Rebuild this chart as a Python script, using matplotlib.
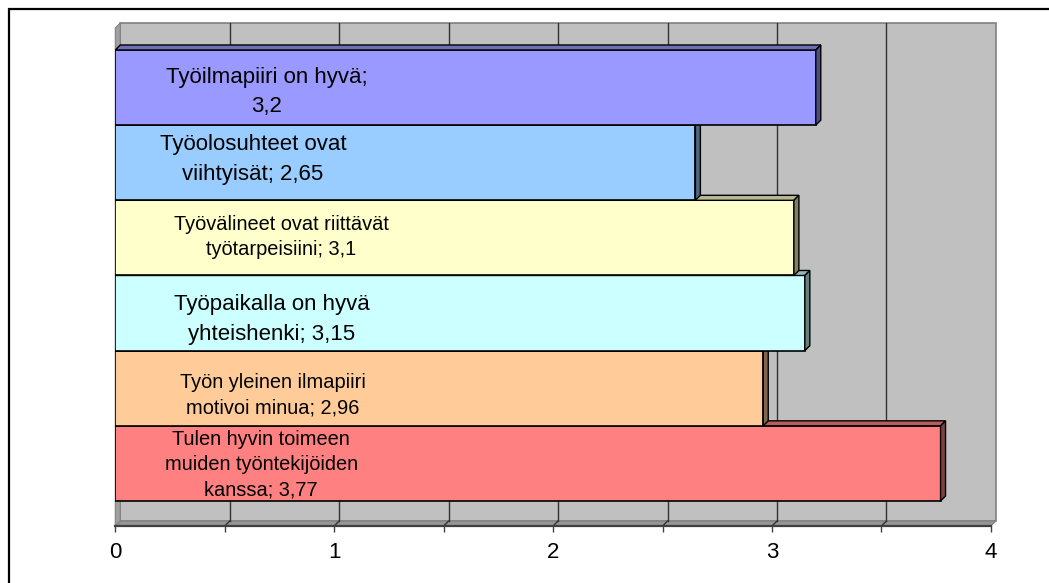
import numpy as np
import matplotlib.pyplot as plt
from matplotlib.patches import Polygon, Rectangle

# categories from the bottom bar up to the top bar
names = [
    "Tulen hyvin toimeen\nmuiden työntekijöiden\nkanssa",
    "Työn yleinen ilmapiiri\nmotivoi minua",
    "Työpaikalla on hyvä\nyhteishenki",
    "Työvälineet ovat riittävät\ntyötarpeisiini",
    "Työolosuhteet ovat\nviihtyisät",
    "Työilmapiiri on hyvä",
]
values = [3.77, 2.96, 3.15, 3.1, 2.65, 3.2]
value_on_own_line = [False, False, False, False, False, True]
colors = ["#FF8080", "#FFCC99", "#CCFFFF", "#FFFFCC", "#99CCFF", "#9999FF"]

tick_values = np.arange(0, 4.01, 0.5)
tick_labels = ["0", "", "1", "", "2", "", "3", "", "4"]

# where each label sits (x in axis units, offset from bar centre in bar heights)
label_x = [0.666, 0.721, 0.716, 0.757, 0.629, 0.693]
label_dy = [-0.02, -0.09, -0.09, 0.01, 0.04, -0.06]
label_size = [14.4, 14.4, 16, 14.4, 16, 16]


def darker(c, f):
    rgb = np.array(plt.matplotlib.colors.to_rgb(c))
    return tuple(rgb * f)


plt.rcParams['font.family'] = ['Liberation Sans', 'DejaVu Sans']

W, H = 1049, 583
fig = plt.figure(figsize=(W / 100, H / 100), dpi=100)
fig.patch.set_facecolor('white')

# outer chart frame (runs off the right and bottom edges)
fig.patches.append(Rectangle((9 / W, -0.1), 1.2, (H - 9) / H + 0.1,
                             transform=fig.transFigure, fill=False,
                             edgecolor='black', linewidth=1.6))

x0_px, x1_px = 115.3, 990.9
y_axis_px, y_top_px = 526, 23
bar_px = 75.17
depth_px = 5

ax = fig.add_axes([x0_px / W, (H - y_axis_px) / H,
                   (x1_px - x0_px) / W, (y_axis_px - y_top_px) / H])
ytop = (y_axis_px - y_top_px) / bar_px
ax.set_xlim(0, 4)
ax.set_ylim(0, ytop)
ax.set_facecolor('none')

dx = depth_px * 4 / (x1_px - x0_px)
dy = depth_px / bar_px
base = 25 / bar_px

# back wall, floor and left side wall
ax.add_patch(Rectangle((dx, dy), 4, ytop - dy, facecolor='#C0C0C0',
                       edgecolor='#808080', linewidth=1.2, zorder=1, clip_on=False))
ax.add_patch(Polygon([(0, 0), (4, 0), (4 + dx, dy), (dx, dy)], closed=True,
                     facecolor='#969696', edgecolor='#808080', linewidth=0.8,
                     zorder=1.5, clip_on=False))
ax.add_patch(Polygon([(0, 0), (dx, dy), (dx, ytop), (0, ytop - dy)], closed=True,
                     facecolor='#A0A0A0', edgecolor='#808080', linewidth=0.8,
                     zorder=1.5, clip_on=False))

# gridlines on wall and floor
for t in tick_values[1:-1]:
    ax.plot([t + dx, t + dx], [dy, ytop], color='#333333', linewidth=1, zorder=2)
    ax.plot([t, t + dx], [0, dy], color='#333333', linewidth=1, zorder=2)

ypos = base + np.arange(len(values)) + 0.5
bars = ax.barh(ypos, values, height=1, color=colors, edgecolor='black',
               linewidth=1.2)
for i, (patch, v, c) in enumerate(zip(bars, values, colors)):
    z = 10 + 2 * i
    patch.set_zorder(z)
    yb, yt = ypos[i] - 0.5, ypos[i] + 0.5
    top = Polygon([(0, yt), (v, yt), (v + dx, yt + dy), (dx, yt + dy)], closed=True,
                  facecolor=darker(c, 0.72), edgecolor='black', linewidth=1.0,
                  zorder=z + 1)
    side = Polygon([(v, yb), (v, yt), (v + dx, yt + dy), (v + dx, yb + dy)], closed=True,
                   facecolor=darker(c, 0.5), edgecolor='black', linewidth=1.0,
                   zorder=z + 1)
    ax.add_patch(top)
    ax.add_patch(side)

    sep = "\n" if value_on_own_line[i] else " "
    text = f"{names[i]};{sep}{str(v).replace('.', ',')}"
    spacing = 1.55 if label_size[i] >= 16 else 1.4
    ax.text(label_x[i], ypos[i] + label_dy[i], text, ha='center', va='center',
            multialignment='center', fontsize=label_size[i], linespacing=spacing,
            color='black', zorder=40)

for s in ['top', 'right', 'left']:
    ax.spines[s].set_visible(False)
ax.spines['bottom'].set_color('#404040')
ax.spines['bottom'].set_linewidth(1.6)
ax.spines['bottom'].set_zorder(5)
ax.set_yticks([])
ax.set_xticks(tick_values)
ax.set_xticklabels(tick_labels)
ax.tick_params(axis='x', length=4.3, width=1, color='#404040', pad=7,
               labelsize=16, labelcolor='black')

fig.savefig('out.png', dpi=100)
